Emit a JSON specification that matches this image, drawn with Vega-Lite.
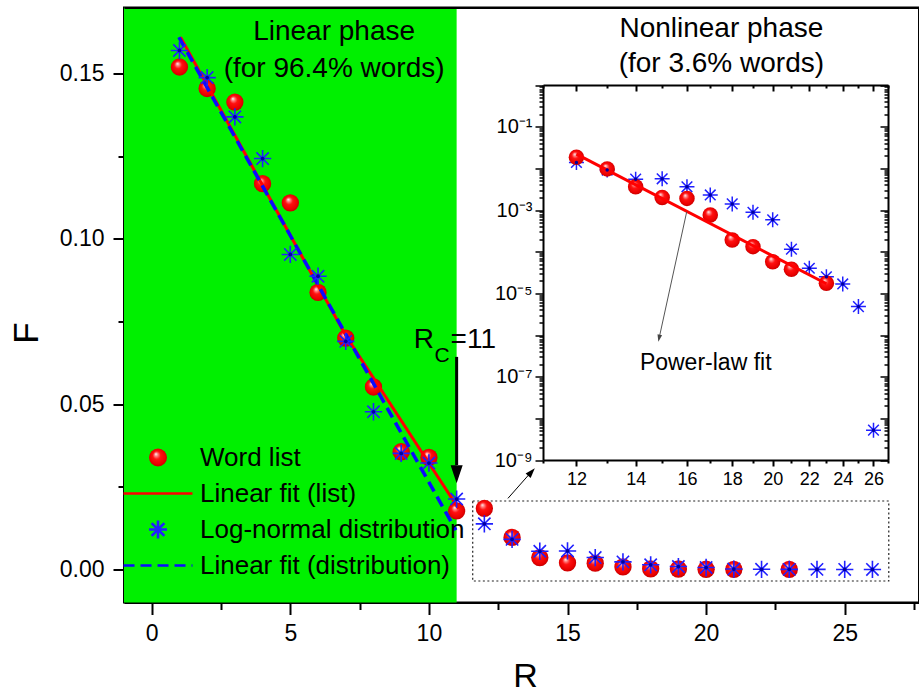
{
  "$schema": "https://vega.github.io/schema/vega-lite/v6.json",
  "width": 795,
  "height": 595,
  "autosize": {"type": "none"},
  "padding": {"left": 124, "top": 7.5, "right": 0, "bottom": 92.5},
  "background": "white",
  "config": {
    "view": {"stroke": "black", "strokeWidth": 2},
    "font": "Liberation Sans",
    "axis": {"grid": false, "domainColor": "black", "domainWidth": 2, "tickColor": "black", "tickWidth": 2, "labelColor": "black", "titleColor": "black", "labelFont": "Liberation Sans", "titleFont": "Liberation Sans", "titleFontWeight": "normal", "zindex": 1, "labelFlush": false, "labelOverlap": false, "labelBound": false},
    "legend": {"labelFont": "Liberation Sans", "labelColor": "black", "labelLimit": 0, "symbolOpacity": 1, "symbolStrokeWidth": 2.6}
  },
  "datasets": {
    "points": [
      {"R": 1, "F": 0.152, "series": "Word list"},
      {"R": 2, "F": 0.1455, "series": "Word list"},
      {"R": 3, "F": 0.1414, "series": "Word list"},
      {"R": 4, "F": 0.1167, "series": "Word list"},
      {"R": 5, "F": 0.1109, "series": "Word list"},
      {"R": 6, "F": 0.0838, "series": "Word list"},
      {"R": 7, "F": 0.07, "series": "Word list"},
      {"R": 8, "F": 0.0552, "series": "Word list"},
      {"R": 9, "F": 0.0356, "series": "Word list"},
      {"R": 10, "F": 0.0339, "series": "Word list"},
      {"R": 11, "F": 0.0177, "series": "Word list"},
      {"R": 12, "F": 0.0185, "series": "Word list"},
      {"R": 13, "F": 0.0097, "series": "Word list"},
      {"R": 14, "F": 0.0036, "series": "Word list"},
      {"R": 15, "F": 0.002, "series": "Word list"},
      {"R": 16, "F": 0.0019, "series": "Word list"},
      {"R": 17, "F": 0.00076, "series": "Word list"},
      {"R": 18, "F": 0.00019, "series": "Word list"},
      {"R": 19, "F": 0.000132, "series": "Word list"},
      {"R": 20, "F": 0.000057, "series": "Word list"},
      {"R": 21, "F": 0.000038, "series": "Word list"},
      {"R": 23, "F": 0.0000174, "series": "Word list"},
      {"R": 1, "F": 0.157, "series": "Log-normal distribution"},
      {"R": 2, "F": 0.1488, "series": "Log-normal distribution"},
      {"R": 3, "F": 0.1369, "series": "Log-normal distribution"},
      {"R": 4, "F": 0.1243, "series": "Log-normal distribution"},
      {"R": 5, "F": 0.0953, "series": "Log-normal distribution"},
      {"R": 6, "F": 0.0887, "series": "Log-normal distribution"},
      {"R": 7, "F": 0.069, "series": "Log-normal distribution"},
      {"R": 8, "F": 0.0477, "series": "Log-normal distribution"},
      {"R": 9, "F": 0.0351, "series": "Log-normal distribution"},
      {"R": 10, "F": 0.0322, "series": "Log-normal distribution"},
      {"R": 11, "F": 0.0213, "series": "Log-normal distribution"},
      {"R": 12, "F": 0.0138, "series": "Log-normal distribution"},
      {"R": 13, "F": 0.0091, "series": "Log-normal distribution"},
      {"R": 14, "F": 0.0055, "series": "Log-normal distribution"},
      {"R": 15, "F": 0.0056, "series": "Log-normal distribution"},
      {"R": 16, "F": 0.0036, "series": "Log-normal distribution"},
      {"R": 17, "F": 0.0023, "series": "Log-normal distribution"},
      {"R": 18, "F": 0.0014, "series": "Log-normal distribution"},
      {"R": 19, "F": 0.00088, "series": "Log-normal distribution"},
      {"R": 20, "F": 0.00058, "series": "Log-normal distribution"},
      {"R": 21, "F": 0.000115, "series": "Log-normal distribution"},
      {"R": 22, "F": 0.00004, "series": "Log-normal distribution"},
      {"R": 23, "F": 0.000025, "series": "Log-normal distribution"},
      {"R": 24, "F": 0.0000168, "series": "Log-normal distribution"},
      {"R": 25, "F": 0.0000048, "series": "Log-normal distribution"},
      {"R": 26, "F": 5.2e-9, "series": "Log-normal distribution"}
    ],
    "fits": [
      {"R": 1.04, "F": 0.161, "series": "Linear fit (list)"},
      {"R": 7.02, "F": 0.0705, "series": "Linear fit (list)"},
      {"R": 11.07, "F": 0.0184, "series": "Linear fit (list)"},
      {"R": 0.98, "F": 0.161, "series": "Linear fit (distribution)"},
      {"R": 10.97, "F": 0.0119, "series": "Linear fit (distribution)"},
      {"R": 12, "F": 0.022, "series": "Power-law fit"},
      {"R": 23, "F": 0.000017, "series": "Power-law fit"}
    ],
    "phases": [{"phase": "Linear", "R_start": -1, "R_end": 11}],
    "zoombox": [{"R_start": 11.58, "R_end": 26.59, "F_low": -0.0035, "F_high": 0.0207}],
    "notes": [
      {"kind": "phase", "R": 6.58, "F": 0.1603, "text": "Linear phase"},
      {"kind": "phase", "R": 6.58, "F": 0.149, "text": "(for 96.4% words)"},
      {"kind": "phase", "R": 20.55, "F": 0.1611, "text": "Nonlinear phase"},
      {"kind": "phase", "R": 20.55, "F": 0.1505, "text": "(for 3.6% words)"},
      {"kind": "rc", "R": 9.45, "F": 0.0669, "text": "R"},
      {"kind": "rcsub", "R": 10.2, "F": 0.0628, "text": "C"},
      {"kind": "rc", "R": 10.78, "F": 0.0669, "text": "=11"}
    ],
    "arrows": [
      {"arrow": "Rc", "R": 11, "F": 0.0643, "R2": 11, "F2": 0.0316},
      {"arrow": "inset", "R": 12.85, "F": 0.0215, "R2": 13.62, "F2": 0.0288}
    ],
    "heads": [
      {"arrow": "Rc", "R": 11, "F": 0.0288},
      {"arrow": "inset", "R": 13.7, "F": 0.0295}
    ],
    "insetnotes": [
      {"kind": "text", "R": 16.8, "F": 1.45e-7, "R2": 16.8, "F2": 1.45e-7, "text": "Power-law fit"},
      {"kind": "line", "R": 15.99, "F": 0.00091, "R2": 14.9, "F2": 9.5e-7, "text": ""},
      {"kind": "head", "R": 14.88, "F": 8.35e-7, "R2": 14.88, "F2": 8.35e-7, "text": ""}
    ]
  },
  "resolve": {"scale": {"x": "independent", "y": "independent"}},
  "layer": [
    {
      "resolve": {"axis": {"x": "independent"}},
      "layer": [
        {
          "data": {"name": "phases"},
          "mark": {"type": "rect", "fill": "#00f000"},
          "encoding": {
            "x": {"field": "R_start", "type": "quantitative", "scale": {"domain": [-1, 27.68], "nice": false, "zero": false}, "axis": {"orient": "top", "labels": false, "ticks": false, "title": null, "domainWidth": 2, "zindex": 1}},
            "x2": {"field": "R_end"}
          }
        },
        {
          "data": {"name": "zoombox"},
          "mark": {"type": "rect", "fill": "transparent", "stroke": "#222222", "strokeWidth": 1.2, "strokeDash": [2, 2.5]},
          "encoding": {
            "x": {"field": "R_start", "type": "quantitative", "axis": null},
            "x2": {"field": "R_end"},
            "y": {"field": "F_low", "type": "quantitative"},
            "y2": {"field": "F_high"}
          }
        },
        {
          "data": {"name": "points"},
          "transform": [{"filter": "datum.series === 'Word list'"}],
          "mark": {"type": "point", "filled": true, "opacity": 1, "size": 300,
            "fill": {"gradient": "radial", "x1": 0.38, "y1": 0.3, "r1": 0, "x2": 0.5, "y2": 0.5, "r2": 0.55,
              "stops": [{"offset": 0, "color": "#ffffff"}, {"offset": 0.18, "color": "#ff8080"}, {"offset": 0.4, "color": "#ff1010"}, {"offset": 0.8, "color": "#e80000"}, {"offset": 1, "color": "#b00000"}]}},
          "encoding": {
            "x": {"field": "R", "type": "quantitative", "scale": {"domain": [-1, 27.68], "nice": false, "zero": false},
              "axis": {"orient": "bottom", "title": "R", "titleFontSize": 34, "titleX": 401, "titleY": 84, "titleAlign": "center", "titleBaseline": "alphabetic",
                "values": [0, 2.5, 5, 7.5, 10, 12.5, 15, 17.5, 20, 22.5, 25, 27.5],
                "tickSize": {"condition": {"test": "datum.value % 5 === 0", "value": 12}, "value": 7},
                "labelExpr": "datum.value % 5 === 0 ? format(datum.value, 'd') : ''",
                "labelFontSize": 23, "labelPadding": 8}},
            "y": {"field": "F", "type": "quantitative", "scale": {"domain": [-0.01, 0.17], "nice": false, "zero": false},
              "axis": {"orient": "left", "title": "F", "titleFontSize": 35, "titleX": -87, "titleY": 325, "titleAngle": 270, "titleAlign": "center", "titleBaseline": "alphabetic",
                "values": [0, 0.025, 0.05, 0.075, 0.1, 0.125, 0.15],
                "tickSize": {"condition": {"test": "abs(datum.value*20 - round(datum.value*20)) < 0.000001", "value": 11}, "value": 6},
                "labelExpr": "abs(datum.value*20 - round(datum.value*20)) < 0.000001 ? format(datum.value, '.2f') : ''",
                "labelFontSize": 23, "labelPadding": 9}},
            "shape": {"field": "series", "type": "nominal",
              "scale": {"domain": ["Word list", "Linear fit (list)", "Log-normal distribution", "Linear fit (distribution)"],
                "range": ["circle", "M-3.83,0H3.83", "M-1,0H1M0,-1V1M-0.71,-0.71L0.71,0.71M-0.71,0.71L0.71,-0.71", "M-3.83,0H3.83"]},
              "legend": {"title": null, "orient": "none", "legendX": 21, "legendY": 437, "labelFontSize": 26, "labelLimit": 0, "symbolSize": 324, "rowPadding": 8, "labelOffset": 29, "padding": 0, "symbolOpacity": 1, "symbolStrokeWidth": 2.6}}
          }
        },
        {
          "data": {"name": "fits"},
          "transform": [{"filter": "datum.series === 'Linear fit (list)'"}],
          "mark": {"type": "line", "strokeWidth": 3},
          "encoding": {
            "x": {"field": "R", "type": "quantitative", "axis": null},
            "y": {"field": "F", "type": "quantitative"},
            "stroke": {"field": "series", "type": "nominal",
              "scale": {"domain": ["Word list", "Linear fit (list)", "Log-normal distribution", "Linear fit (distribution)"], "range": ["transparent", "#ff0000", "#2020ff", "#0a0aff"]},
              "legend": {"title": null, "orient": "none", "legendX": 21, "legendY": 437, "labelFontSize": 26, "labelLimit": 0, "symbolSize": 324, "rowPadding": 8, "labelOffset": 29, "padding": 0, "symbolOpacity": 1, "symbolStrokeWidth": 2.6}},
            "strokeDash": {"field": "series", "type": "nominal",
              "scale": {"domain": ["Word list", "Linear fit (list)", "Log-normal distribution", "Linear fit (distribution)"], "range": [[1, 0], [1, 0], [1, 0], [11, 6]]},
              "legend": {"title": null, "orient": "none", "legendX": 21, "legendY": 437, "labelFontSize": 26, "labelLimit": 0, "symbolSize": 324, "rowPadding": 8, "labelOffset": 29, "padding": 0, "symbolOpacity": 1, "symbolStrokeWidth": 2.6}}
          }
        },
        {
          "data": {"name": "fits"},
          "transform": [{"filter": "datum.series === 'Linear fit (distribution)'"}],
          "mark": {"type": "line", "strokeWidth": 3.5},
          "encoding": {
            "x": {"field": "R", "type": "quantitative", "axis": null},
            "y": {"field": "F", "type": "quantitative"},
            "stroke": {"field": "series", "type": "nominal"},
            "strokeDash": {"field": "series", "type": "nominal"}
          }
        },
        {
          "data": {"name": "points"},
          "transform": [{"filter": "datum.series === 'Log-normal distribution'"}],
          "mark": {"type": "point", "filled": false, "opacity": 1, "size": 300, "strokeWidth": 1.6},
          "encoding": {
            "x": {"field": "R", "type": "quantitative", "axis": null},
            "y": {"field": "F", "type": "quantitative"},
            "shape": {"field": "series", "type": "nominal"},
            "stroke": {"field": "series", "type": "nominal"}
          }
        },
        {
          "data": {"name": "points"},
          "transform": [{"filter": "datum.series === 'Log-normal distribution'"}],
          "mark": {"type": "point", "shape": "circle", "filled": true, "opacity": 1, "size": 14, "color": "#0000a0"},
          "encoding": {
            "x": {"field": "R", "type": "quantitative", "axis": null},
            "y": {"field": "F", "type": "quantitative"}
          }
        },
        {
          "data": {"name": "arrows"},
          "transform": [{"filter": "datum.arrow === 'Rc'"}],
          "mark": {"type": "rule", "color": "black", "strokeWidth": 3},
          "encoding": {
            "x": {"field": "R", "type": "quantitative", "axis": null},
            "y": {"field": "F", "type": "quantitative"},
            "x2": {"field": "R2"},
            "y2": {"field": "F2"}
          }
        },
        {
          "data": {"name": "arrows"},
          "transform": [{"filter": "datum.arrow === 'inset'"}],
          "mark": {"type": "rule", "color": "black", "strokeWidth": 1},
          "encoding": {
            "x": {"field": "R", "type": "quantitative", "axis": null},
            "y": {"field": "F", "type": "quantitative"},
            "x2": {"field": "R2"},
            "y2": {"field": "F2"}
          }
        },
        {
          "data": {"name": "heads"},
          "transform": [{"filter": "datum.arrow === 'Rc'"}],
          "mark": {"type": "point", "shape": "M-0.67,-1L0.67,-1L0,1Z", "filled": true, "opacity": 1, "size": 324, "color": "black"},
          "encoding": {
            "x": {"field": "R", "type": "quantitative", "axis": null},
            "y": {"field": "F", "type": "quantitative"}
          }
        },
        {
          "data": {"name": "heads"},
          "transform": [{"filter": "datum.arrow === 'inset'"}],
          "mark": {"type": "point", "shape": "M-0.67,-1L0.67,-1L0,1Z", "filled": true, "opacity": 1, "size": 100, "angle": 222, "color": "black"},
          "encoding": {
            "x": {"field": "R", "type": "quantitative", "axis": null},
            "y": {"field": "F", "type": "quantitative"}
          }
        },
        {
          "data": {"name": "notes"},
          "transform": [{"filter": "datum.kind === 'phase'"}],
          "mark": {"type": "text", "font": "Liberation Sans", "fontSize": 28, "align": "center", "baseline": "alphabetic", "color": "black"},
          "encoding": {
            "x": {"field": "R", "type": "quantitative", "axis": null},
            "y": {"field": "F", "type": "quantitative"},
            "text": {"field": "text"}
          }
        },
        {
          "data": {"name": "notes"},
          "transform": [{"filter": "datum.kind === 'rc'"}],
          "mark": {"type": "text", "font": "Liberation Sans", "fontSize": 28, "align": "left", "baseline": "alphabetic", "color": "black"},
          "encoding": {
            "x": {"field": "R", "type": "quantitative", "axis": null},
            "y": {"field": "F", "type": "quantitative"},
            "text": {"field": "text"}
          }
        },
        {
          "data": {"name": "notes"},
          "transform": [{"filter": "datum.kind === 'rcsub'"}],
          "mark": {"type": "text", "font": "Liberation Sans", "fontSize": 21, "align": "left", "baseline": "alphabetic", "color": "black"},
          "encoding": {
            "x": {"field": "R", "type": "quantitative", "axis": null},
            "y": {"field": "F", "type": "quantitative"},
            "text": {"field": "text"}
          }
        }
      ]
    },
    {
      "resolve": {"axis": {"x": "independent", "y": "independent"}},
      "layer": [
        {
          "data": {"name": "points"},
          "transform": [{"filter": "datum.R >= 12 && datum.series === 'Log-normal distribution'"}],
          "mark": {"type": "point", "shape": "M-1,0H1M0,-1V1M-0.71,-0.71L0.71,0.71M-0.71,0.71L0.71,-0.71", "filled": false, "opacity": 1, "size": 225, "stroke": "#2020ff", "strokeWidth": 1.5},
          "encoding": {
            "x": {"field": "R", "type": "quantitative",
              "scale": {"type": "log", "domain": [11, 27], "range": [419, 764], "nice": false},
              "axis": {"orient": "bottom", "offset": -142.5, "title": null, "values": [11, 12, 13, 14, 15, 16, 17, 18, 19, 20, 21, 22, 23, 24, 25, 26, 27],
                "tickSize": {"condition": {"test": "datum.value % 2 === 0", "value": 6}, "value": 3},
                "labelExpr": "datum.value % 2 === 0 && datum.value < 27 ? format(datum.value, 'd') : ''",
                "labelFontSize": 18, "labelPadding": 4}},
            "y": {"field": "F", "type": "quantitative",
              "scale": {"type": "log", "domain": [1e-9, 1], "range": [452.5, 77.5], "nice": false},
              "axis": {"orient": "left", "offset": -419, "title": null,
                "values": [1e-9, 2e-9, 3e-9, 4e-9, 5e-9, 6e-9, 7e-9, 8e-9, 9e-9, 1e-8, 2e-8, 3e-8, 4e-8, 5e-8, 6e-8, 7e-8, 8e-8, 9e-8, 1e-7, 2e-7, 3e-7, 4e-7, 5e-7, 6e-7, 7e-7, 8e-7, 9e-7, 1e-6, 2e-6, 3e-6, 4e-6, 5e-6, 6e-6, 7e-6, 8e-6, 9e-6, 1e-5, 2e-5, 3e-5, 4e-5, 5e-5, 6e-5, 7e-5, 8e-5, 9e-5, 0.0001, 0.0002, 0.0003, 0.0004, 0.0005, 0.0006, 0.0007, 0.0008, 0.0009, 0.001, 0.002, 0.003, 0.004, 0.005, 0.006, 0.007, 0.008, 0.009, 0.01, 0.02, 0.03, 0.04, 0.05, 0.06, 0.07, 0.08, 0.09, 0.1, 0.2, 0.3, 0.4, 0.5, 0.6, 0.7, 0.8, 0.9, 1],
                "tickSize": {"condition": {"test": "abs(log(datum.value)/LN10 - round(log(datum.value)/LN10)) < 0.001", "value": 8}, "value": 4},
                "tickWidth": 1.5,
                "labelExpr": "abs(log(datum.value)/LN10 - round(log(datum.value)/LN10)) < 0.001 && abs(round(log(datum.value)/LN10)) % 2 === 1 ? '10' + replace(replace(replace(replace(replace(replace(toString(round(log(datum.value)/LN10)), '-', '⁻'), '1', '¹'), '3', '³'), '5', '⁵'), '7', '⁷'), '9', '⁹') : ''",
                "labelFontSize": 20, "labelPadding": 3}}
          }
        },
        {
          "data": {"name": "points"},
          "transform": [{"filter": "datum.R >= 12 && datum.series === 'Word list'"}],
          "mark": {"type": "point", "shape": "circle", "filled": true, "opacity": 1, "size": 240, "strokeWidth": 0,
            "fill": {"gradient": "radial", "x1": 0.38, "y1": 0.3, "r1": 0, "x2": 0.5, "y2": 0.5, "r2": 0.55,
              "stops": [{"offset": 0, "color": "#ffffff"}, {"offset": 0.18, "color": "#ff8080"}, {"offset": 0.4, "color": "#ff1010"}, {"offset": 0.8, "color": "#e80000"}, {"offset": 1, "color": "#b00000"}]}},
          "encoding": {
            "x": {"field": "R", "type": "quantitative",
              "axis": {"orient": "top", "offset": -77.5, "title": null, "labels": false, "values": [11, 12, 13, 14, 15, 16, 17, 18, 19, 20, 21, 22, 23, 24, 25, 26, 27],
                "tickSize": {"condition": {"test": "datum.value % 2 === 0", "value": -6}, "value": -3}}},
            "y": {"field": "F", "type": "quantitative",
              "axis": {"orient": "right", "offset": -31, "title": null, "labels": false,
                "values": [1e-9, 2e-9, 3e-9, 4e-9, 5e-9, 6e-9, 7e-9, 8e-9, 9e-9, 1e-8, 2e-8, 3e-8, 4e-8, 5e-8, 6e-8, 7e-8, 8e-8, 9e-8, 1e-7, 2e-7, 3e-7, 4e-7, 5e-7, 6e-7, 7e-7, 8e-7, 9e-7, 1e-6, 2e-6, 3e-6, 4e-6, 5e-6, 6e-6, 7e-6, 8e-6, 9e-6, 1e-5, 2e-5, 3e-5, 4e-5, 5e-5, 6e-5, 7e-5, 8e-5, 9e-5, 0.0001, 0.0002, 0.0003, 0.0004, 0.0005, 0.0006, 0.0007, 0.0008, 0.0009, 0.001, 0.002, 0.003, 0.004, 0.005, 0.006, 0.007, 0.008, 0.009, 0.01, 0.02, 0.03, 0.04, 0.05, 0.06, 0.07, 0.08, 0.09, 0.1, 0.2, 0.3, 0.4, 0.5, 0.6, 0.7, 0.8, 0.9, 1],
                "tickSize": {"condition": {"test": "abs(log(datum.value)/LN10 - round(log(datum.value)/LN10)) < 0.001", "value": -8}, "value": -4},
                "tickWidth": 1.5}}
          }
        },
        {
          "data": {"name": "fits"},
          "transform": [{"filter": "datum.series === 'Power-law fit'"}],
          "mark": {"type": "line", "stroke": "#ff0000", "strokeWidth": 3},
          "encoding": {
            "x": {"field": "R", "type": "quantitative", "axis": null},
            "y": {"field": "F", "type": "quantitative", "axis": null}
          }
        },
        {
          "data": {"name": "points"},
          "transform": [{"filter": "datum.R >= 12 && datum.series === 'Log-normal distribution'"}],
          "mark": {"type": "point", "shape": "circle", "filled": true, "opacity": 1, "size": 12, "color": "#0000a0"},
          "encoding": {
            "x": {"field": "R", "type": "quantitative", "axis": null},
            "y": {"field": "F", "type": "quantitative", "axis": null}
          }
        },
        {
          "data": {"name": "insetnotes"},
          "transform": [{"filter": "datum.kind === 'line'"}],
          "mark": {"type": "rule", "color": "#555555", "strokeWidth": 1},
          "encoding": {
            "x": {"field": "R", "type": "quantitative", "axis": null},
            "y": {"field": "F", "type": "quantitative", "axis": null},
            "x2": {"field": "R2"},
            "y2": {"field": "F2"}
          }
        },
        {
          "data": {"name": "insetnotes"},
          "transform": [{"filter": "datum.kind === 'head'"}],
          "mark": {"type": "point", "shape": "M-0.67,-1L0.67,-1L0,1Z", "filled": true, "opacity": 1, "size": 49, "angle": 12, "color": "#444444"},
          "encoding": {
            "x": {"field": "R", "type": "quantitative", "axis": null},
            "y": {"field": "F", "type": "quantitative", "axis": null}
          }
        },
        {
          "data": {"name": "insetnotes"},
          "transform": [{"filter": "datum.kind === 'text'"}],
          "mark": {"type": "text", "font": "Liberation Sans", "fontSize": 23, "align": "center", "baseline": "alphabetic", "color": "black"},
          "encoding": {
            "x": {"field": "R", "type": "quantitative", "axis": null},
            "y": {"field": "F", "type": "quantitative", "axis": null},
            "text": {"field": "text"}
          }
        }
      ]
    }
  ]
}
